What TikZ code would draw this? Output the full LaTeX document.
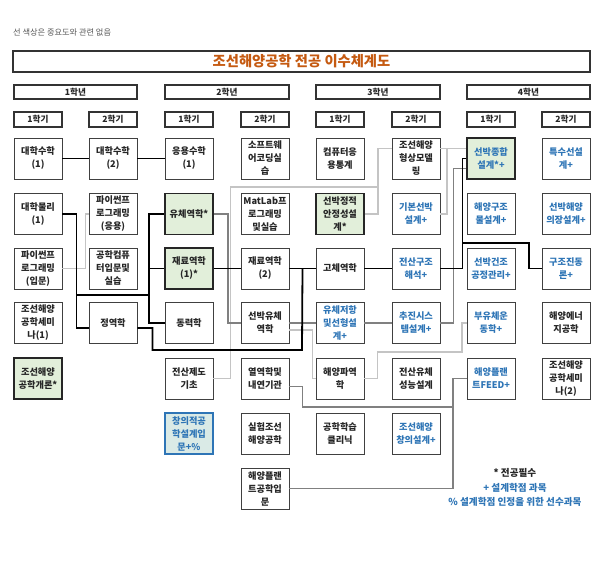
\documentclass[tikz,border=0pt]{standalone}
\usepackage{fontspec}
\setmainfont{Noto Sans CJK KR}
\usetikzlibrary{calc}
\definecolor{bordergray}{HTML}{404040}
\definecolor{reqfill}{HTML}{E2EFDA}
\definecolor{dsgn}{HTML}{2E75B6}
\definecolor{titleor}{HTML}{C55A11}
\definecolor{midgray}{HTML}{808080}
\definecolor{ltgray}{HTML}{C4C4C4}
\definecolor{crfill}{HTML}{DAEAE6}
\definecolor{txt}{HTML}{262626}
\begin{document}
\begin{tikzpicture}[x=1pt,y=-1pt,
  course/.style={draw=bordergray, line width=0.9pt, fill=white, minimum width=48pt, minimum height=41pt, inner sep=0pt, align=center, text=txt, font=\fontsize{9.2}{13}\selectfont\bfseries},
  req/.style={course, fill=reqfill, draw=black!85, line width=1.8pt},
  dsg/.style={text=dsgn},
  hdr/.style={draw=black!80, line width=1.6pt, inner sep=0pt, text=txt, font=\fontsize{8.6}{9}\selectfont\bfseries},
  blk/.style={draw=black, line width=1.8pt},
  mgl/.style={draw=midgray, line width=1.5pt},
  lgl/.style={draw=ltgray, line width=1.5pt},
  legend/.style={font=\fontsize{9.6}{10}\selectfont\bfseries, inner sep=0pt}
]
\useasboundingbox (0,0) rectangle (600,560);
\fill[white] (0,0) rectangle (600,560);

% note and title
\node[text=black!65, font=\fontsize{8.2}{9}\selectfont, anchor=west, inner sep=0pt] (note) at (13,32) {선 색상은 중요도와 관련 없음};
\node[draw=black!80, line width=2pt, minimum width=577pt, minimum height=21pt, inner sep=0pt, text=titleor, font=\fontsize{14.3}{15}\selectfont\bfseries] (title) at (301.5,61.5) {조선해양공학 전공 이수체계도};

% years
\node[hdr, minimum width=123pt, minimum height=14pt] (y1) at (75.5,92) {1학년};
\node[hdr, minimum width=124pt, minimum height=14pt] (y2) at (227,92) {2학년};
\node[hdr, minimum width=124pt, minimum height=14pt] (y3) at (378,92) {3학년};
\node[hdr, minimum width=123pt, minimum height=14pt] (y4) at (528.5,92) {4학년};

% semesters
\node[hdr, minimum width=48pt, minimum height=15pt] (s11) at (38,119.5) {1학기};
\node[hdr, minimum width=48pt, minimum height=15pt] (s12) at (113,119.5) {2학기};
\node[hdr, minimum width=48pt, minimum height=15pt] (s21) at (189,119.5) {1학기};
\node[hdr, minimum width=48pt, minimum height=15pt] (s22) at (265,119.5) {2학기};
\node[hdr, minimum width=48pt, minimum height=15pt] (s31) at (340,119.5) {1학기};
\node[hdr, minimum width=48pt, minimum height=15pt] (s32) at (416,119.5) {2학기};
\node[hdr, minimum width=48pt, minimum height=15pt] (s41) at (491,119.5) {1학기};
\node[hdr, minimum width=48pt, minimum height=15pt] (s42) at (566,119.5) {2학기};

% column 1
\node[course] (m1) at (38,158.5) {대학수학\\(1)};
\node[course] (p1) at (38,214) {대학물리\\(1)};
\node[course] (py1) at (38,268.5) {파이썬프\\로그래밍\\(입문)};
\node[course] (sem1) at (38,323) {조선해양\\공학세미\\나(1)};
\node[req] (intro) at (38,378.5) {조선해양\\공학개론*};

% column 2
\node[course] (m2) at (113,158.5) {대학수학\\(2)};
\node[course] (py2) at (113,214) {파이썬프\\로그래밍\\(응용)};
\node[course] (cp) at (113,268.5) {공학컴퓨\\터입문및\\실습};
\node[course] (st) at (113,323) {정역학};

% column 3
\node[course] (am) at (189,158.5) {응용수학\\(1)};
\node[req] (fl) at (189,214) {유체역학*};
\node[req] (rm1) at (189,268.5) {재료역학\\(1)*};
\node[course] (dy) at (189,323) {동력학};
\node[course] (jd) at (189,378.5) {전산제도\\기초};
\node[course, dsg, draw=dsgn, line width=2pt, fill=crfill] (cr) at (189,433.5) {창의적공\\학설계입\\문+\%};

% column 4
\node[course] (sw) at (265,158.5) {소프트웨\\어코딩실\\습};
\node[course] (ml) at (265,214) {MatLab프\\로그래밍\\및실습};
\node[course] (rm2) at (265,268.5) {재료역학\\(2)};
\node[course] (sy) at (265,323) {선박유체\\역학};
\node[course] (th) at (265,378.5) {열역학및\\내연기관};
\node[course] (ex) at (265,433.5) {실험조선\\해양공학};
\node[course] (hp) at (265,488.5) {해양플랜\\트공학입\\문};

% column 5
\node[course] (stat) at (340,158.5) {컴퓨터응\\용통계};
\node[req] (ss) at (340,214) {선박정적\\안정성설\\계*};
\node[course] (gc) at (340,268.5) {고체역학};
\node[course, dsg] (rs) at (340,323) {유체저항\\및선형설\\계+};
\node[course] (hw) at (340,378.5) {해양파역\\학};
\node[course] (cl) at (340,433.5) {공학학습\\클리닉};

% column 6
\node[course] (hs) at (416,158.5) {조선해양\\형상모델\\링};
\node[course, dsg] (gb) at (416,214) {기본선박\\설계+};
\node[course, dsg] (ca) at (416,268.5) {전산구조\\해석+};
\node[course, dsg] (pr) at (416,323) {추진시스\\템설계+};
\node[course] (cf) at (416,378.5) {전산유체\\성능설계};
\node[course, dsg] (cd) at (416,433.5) {조선해양\\창의설계+};

% column 7
\node[req, dsg] (sd) at (491,158.5) {선박종합\\설계*+};
\node[course, dsg] (os) at (491,214) {해양구조\\물설계+};
\node[course, dsg] (bc) at (491,268.5) {선박건조\\공정관리+};
\node[course, dsg] (fb) at (491,323) {부유체운\\동학+};
\node[course, dsg] (fd) at (491,378.5) {해양플랜\\트FEED+};

% column 8
\node[course, dsg] (sp) at (566,158.5) {특수선설\\계+};
\node[course, dsg] (ou) at (566,214) {선박해양\\의장설계+};
\node[course, dsg] (sv) at (566,268.5) {구조진동\\론+};
\node[course] (oe) at (566,323) {해양에너\\지공학};
\node[course] (sem2) at (566,378.5) {조선해양\\공학세미\\나(2)};

% junction coordinates
\coordinate (ja) at (76,295);
\coordinate (jb) at (150,295);
\coordinate (jc) at (302,350);
\coordinate (jd0) at ($(rm2.east)!0.5!(gc.west)$);
\coordinate (je) at (462,243);
\coordinate (jf) at (453,407);
\coordinate (jg) at (378,187);
\coordinate (jh) at (447,148.5);
\coordinate (ji) at (462,352);

% light gray connectors
\draw[lgl] (py1.east) -- ++(23,0) |- (py2.west);
\draw[lgl] (jd.east) -- ++(17,0) |- (jg) |- ([yshift=10pt]hs.west);
\draw[lgl] (ss.east) -| (jg);
\draw[lgl] ([yshift=10pt]hs.east) -- ([yshift=10pt]sd.west);
\draw[lgl] (gb.east) -| (jh);
\draw[lgl] ([yshift=-7pt]sy.east) -- ++(23,0) |- (hw.west);
\draw[lgl] (hw.east) -- ++(13,0) |- (ji) |- (fb.west);

% medium gray connectors
\draw[mgl] (fl.east) -- ++(14,0) |- (sy.west);
\draw[mgl] (sy.east) -- (rs.west);
\draw[mgl] (rs.east) -- (pr.west);
\draw[mgl] (pr.east) -- ++(13,0) |- ([yshift=-10pt]sd.west);
\draw[mgl] ([yshift=-8pt]th.east) -- ++(13,0) |- (jf) |- (fd.west);
\draw[mgl] (hp.east) -| (jf);

% black connectors
\draw[blk] (m1.east) -- (m2.west);
\draw[blk] (m2.east) -- (am.west);
\draw[blk] (p1.east) -- ++(14,0) |- ([yshift=-5pt]st.west);
\draw[blk] (ja) -- (jb);
\draw[blk] (fl.west) -- ++(-15,0) |- (dy.west);
\draw[blk] (rm1.west) -- ++(-15,0);
\draw[blk] (rm1.east) -- (rm2.west);
\draw[blk] (rm2.east) -- (gc.west);
\draw[blk] (gc.east) -- (ca.west);
\draw[blk] ([yshift=-5pt]st.east) -- ++(15,0) |- (jc) -- (jd0);
\draw[blk] (ca.east) -- ++(22,0) |- (sd.west);
\draw[blk] (je) -- ++(67,0) |- (sv.west);

% legend
\node[legend, text=txt] (lg1) at (515,473) {* 전공필수};
\node[legend, text=dsgn] (lg2) at (515,488) {+ 설계학점 과목};
\node[legend, text=dsgn] (lg3) at (515,502) {\% 설계학점 인정을 위한 선수과목};
\end{tikzpicture}
\end{document}
